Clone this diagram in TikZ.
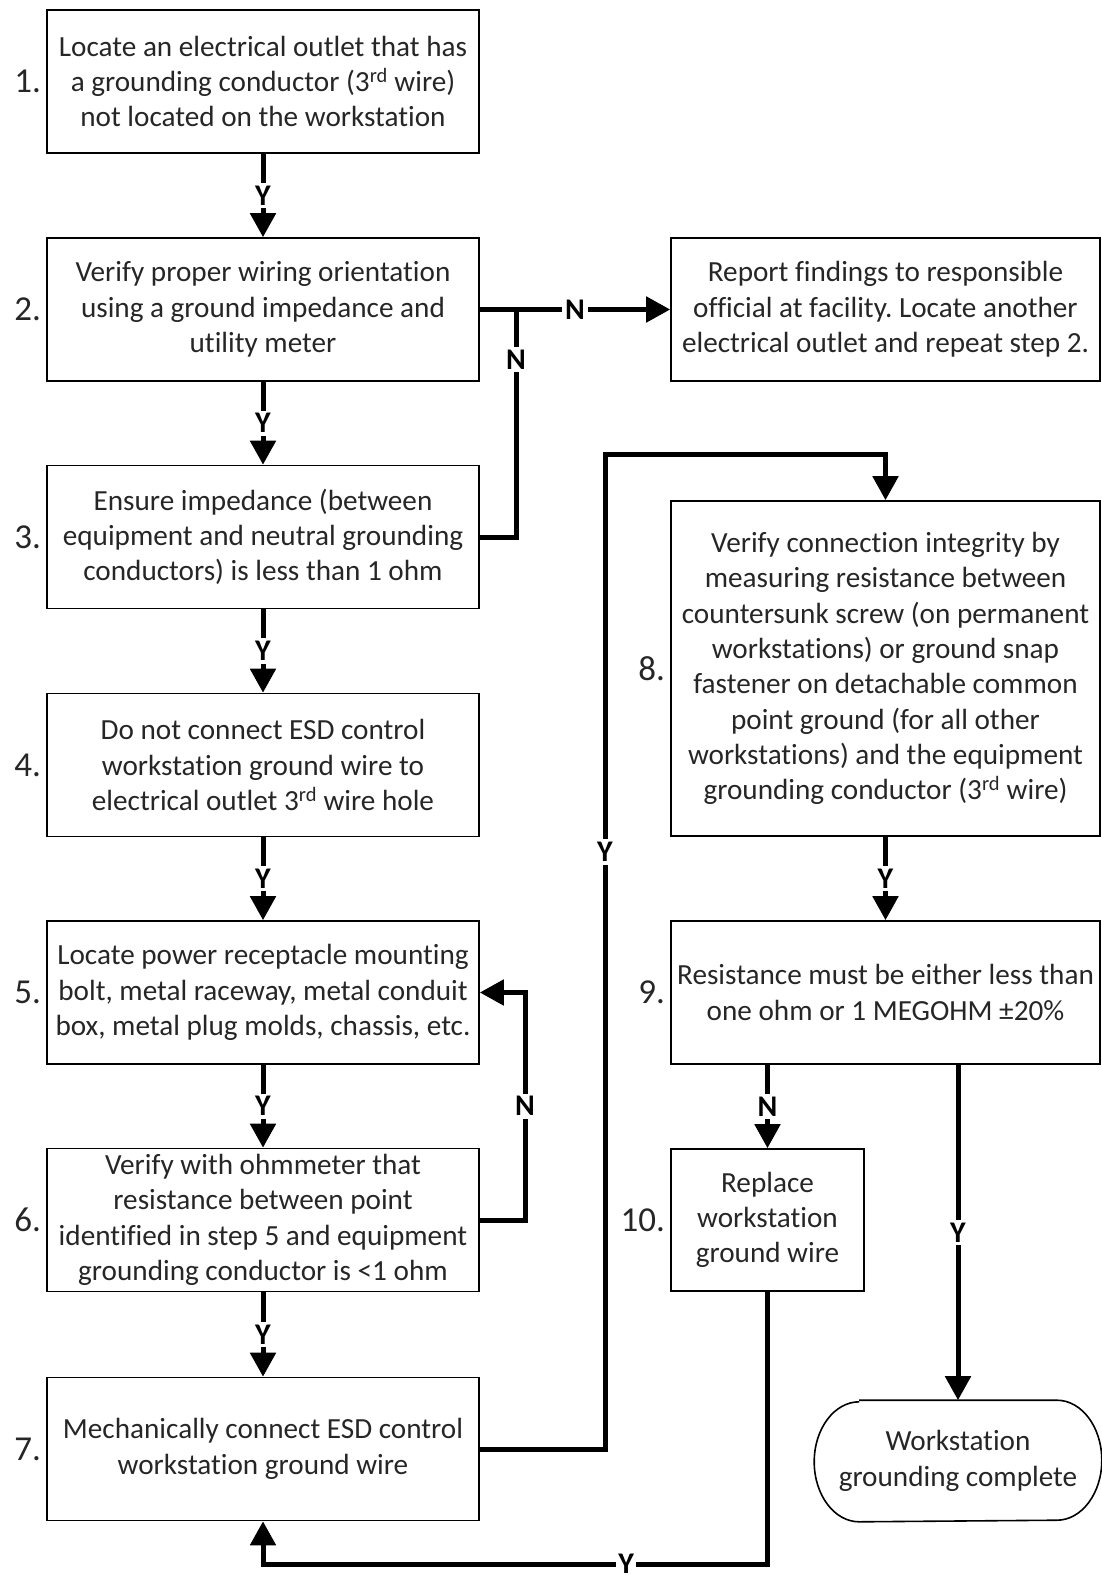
\documentclass[tikz,border=0pt]{standalone}
\usepackage{fontspec}
\setmainfont{Carlito}[Ligatures=NoCommon]
\usetikzlibrary{arrows.meta}
\frenchspacing

\newcommand\boxfont{\fontsize{29.2}{35.3}\selectfont}
\newcommand\numfont{\fontsize{35}{40}\selectfont}
\newcommand\labfont{\fontsize{30}{32}\selectfont\bfseries}

\tikzset{
  box/.style={draw, line width=1.6pt, minimum width=432pt, minimum height=143pt,
    align=center, inner sep=0pt, font=\boxfont, text=black!85},
  num/.style={left, inner sep=5pt, font=\numfont, text=black!85},
  lab/.style={fill=white, inner sep=3pt, font=\labfont},
  conn/.style={line width=5pt, -{Triangle[length=24pt,width=25pt]}},
  wire/.style={line width=5pt}
}

\begin{document}
\begin{tikzpicture}[x=1pt,y=-1pt]
\useasboundingbox (0,0) rectangle (1102,1581);

% left column
\node[box] (b1) at (263,81.5) {Locate an electrical outlet that has\\a grounding conductor (3\textsuperscript{rd} wire)\\not located on the workstation};
\node[box] (b2) at (263,309.5) {Verify proper wiring orientation\\using a ground impedance and\\utility meter};
\node[box] (b3) at (263,537) {Ensure impedance (between\\equipment and neutral grounding\\conductors) is less than 1 ohm};
\node[box] (b4) at (263,765) {Do not connect ESD control\\workstation ground wire to\\electrical outlet 3\textsuperscript{rd} wire hole};
\node[box] (b5) at (263,992.5) {Locate power receptacle mounting\\bolt, metal raceway, metal conduit\\box, metal plug molds, chassis, etc.};
\node[box] (b6) at (263,1220) {Verify with ohmmeter that\\resistance between point\\identified in step 5 and equipment\\grounding conductor is <1 ohm};
\node[box] (b7) at (263,1449) {Mechanically connect ESD control\\workstation ground wire};

% right column
\node[box, minimum width=429pt] (rep) at (885.5,309.5) {Report findings to responsible\\official at facility. Locate another\\electrical outlet and repeat step 2.};
\node[box, minimum width=429pt, minimum height=335pt] (b8) at (885.5,668.5) {Verify connection integrity by\\measuring resistance between\\countersunk screw (on permanent\\workstations) or ground snap\\fastener on detachable common\\point ground (for all other\\workstations) and the equipment\\grounding conductor (3\textsuperscript{rd} wire)};
\node[box, minimum width=429pt] (b9) at (885.5,992.5) {Resistance must be either less than\\one ohm or 1 MEGOHM ±20\%};
\node[box, minimum width=193pt, minimum height=142pt] (b10) at (767.5,1220) {Replace\\workstation\\ground wire};
\node[box, draw=none, minimum width=286pt, minimum height=120pt] (done) at (958,1461) {Workstation\\grounding complete};
\draw[line width=1.6pt] ([xshift=45pt]done.north west) -- ([xshift=-45pt]done.north east)
  arc[start angle=90, end angle=-90, x radius=45pt, y radius=60pt]
  -- ([xshift=45pt]done.south west)
  arc[start angle=270, end angle=90, x radius=45pt, y radius=60pt];

% step numbers
\foreach \b/\n in {b1/1,b2/2,b3/3,b4/4,b5/5,b6/6,b7/7,b8/8,b9/9,b10/10}
  \node[num] (n\b) at (\b.west) {\n.};

% connectors
\foreach \a/\b in {b1/b2,b2/b3,b3/b4,b4/b5,b5/b6,b6/b7}
  \draw[conn] (\a) -- node[lab] {Y} (\b);
\draw[conn] (b2) -- node[lab] {N} (rep);
\coordinate (j3) at (516,309.5);
\draw[wire] (b3.east) -| node[lab, pos=0.89] {N} (j3);
\coordinate (c6) at (525,992.5);
\draw[conn] (b6.east) -| node[lab, pos=0.75] {N} (c6) -- (b5.east);
\coordinate (c7) at (605,454);
\draw[conn] (b7.east) -| node[lab, pos=0.8] {Y} (c7) -| (b8.north);
\draw[conn] (b8) -- node[lab] {Y} (b9);
\draw[conn] (b10.north |- b9.south) -- node[lab] {N} (b10.north);
\draw[conn] (done.north |- b9.south) -- node[lab] {Y} (done.north);
\coordinate (c10) at (767.5,1564);
\draw[conn] (b10.south) -- (c10) -| node[lab, pos=0.14, inner sep=2pt] {Y} (b7.south);
\end{tikzpicture}
\end{document}
